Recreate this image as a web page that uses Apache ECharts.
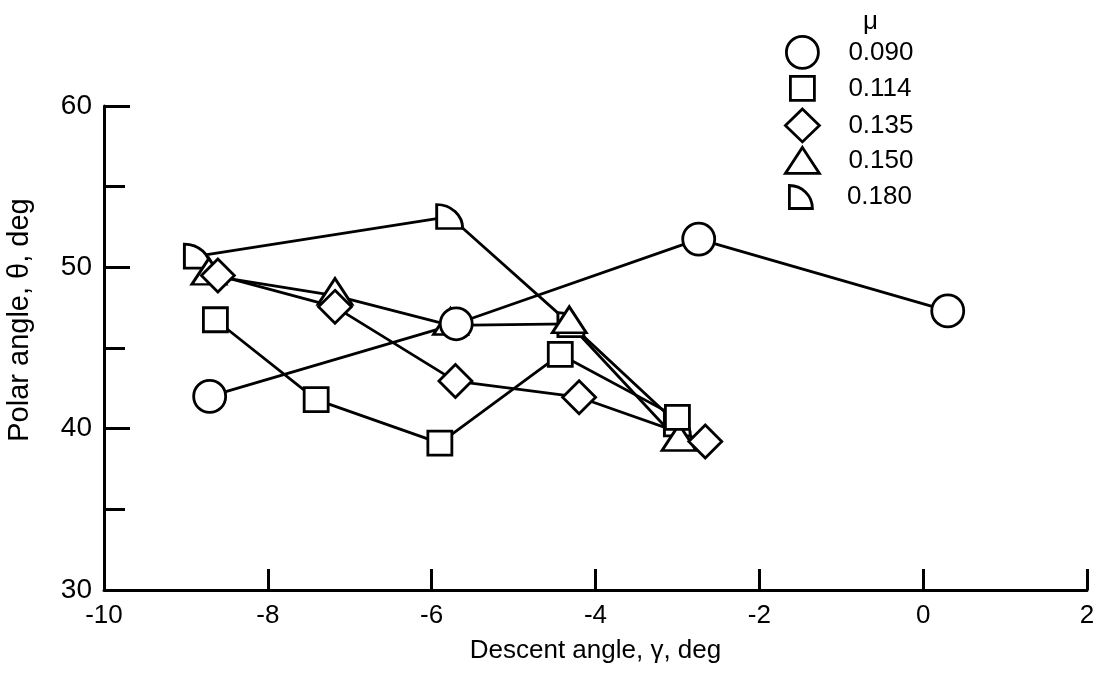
<!DOCTYPE html>
<html>
<head>
<meta charset="utf-8">
<script src="https://cdn.jsdelivr.net/npm/echarts@6/dist/echarts.min.js"></script>
<style>
  html, body { margin: 0; padding: 0; background: #fff; }
  #chart { width: 1097px; height: 675px; }
</style>
</head>
<body>
<div id="chart"></div>
<script>
// mu values (legend)
var muNames = ['0.090', '0.114', '0.135', '0.150', '0.180'];

// [descent angle gamma, polar angle theta] per mu
var mu090 = [[-8.71, 42.0], [-5.70, 46.5], [-2.74, 51.75], [0.30, 47.3]];
var mu114 = [[-8.64, 46.75], [-7.41, 41.8], [-5.90, 39.1], [-4.43, 44.6], [-3.00, 40.7]];
var mu135 = [[-8.61, 49.5], [-7.18, 47.55], [-5.71, 42.95], [-4.20, 41.95], [-2.66, 39.2]];
var mu150 = [[-8.72, 49.5], [-7.18, 48.25], [-5.77, 46.4], [-4.32, 46.5], [-2.98, 39.2]];
var mu180 = [[-8.86, 50.7], [-5.78, 53.15], [-4.30, 46.45], [-3.00, 40.3]];

var xTicks = [-10, -8, -6, -4, -2, 0, 2];
var yTicks = [30, 40, 50, 60];

var quarter = 'path://M0,0 L0,10 L10,10 A10,10 0 0 0 0,0 Z';

var font = 'Liberation Sans, Arial, Helvetica, sans-serif';
var fs = 26;
var markStyle = { color: '#fff', borderColor: '#000', borderWidth: 2.8 };
var lineStyle = { color: '#000', width: 2.8 };

var mkSeries = function(name, data, symbol, size, offset) {
	return {
		name: name,
		type: 'line',
		data: data,
		symbol: symbol,
		symbolSize: size,
		symbolOffset: offset || [0, 0],
		symbolKeepAspect: true,
		showAllSymbol: true,
		itemStyle: markStyle,
		lineStyle: lineStyle,
		emphasis: { disabled: true },
		clip: false
	};
};

// one legend per row so every icon keeps its own size
var rows = [
	{ name: muNames[0], icon: 'circle', w: 32, h: 32, y: 51 },
	{ name: muNames[1], icon: 'rect', w: 24, h: 24, y: 88 },
	{ name: muNames[2], icon: 'diamond', w: 34, h: 33, y: 124 },
	{ name: muNames[3], icon: 'triangle', w: 34, h: 26, y: 159 },
	{ name: muNames[4], icon: quarter, w: 26, h: 23, y: 197 }
];
var legends = rows.map(function(r) {
	return {
		orient: 'vertical',
		left: 801 - r.w / 2,
		top: r.y - Math.max(r.h, 26) / 2,
		padding: 0,
		itemWidth: r.w,
		itemHeight: r.h,
		selectedMode: false,
		textStyle: { fontFamily: font, fontSize: fs, color: '#000', padding: [0, 0, 0, 41 - r.w / 2] },
		data: [{ name: r.name, icon: r.icon, itemStyle: markStyle }]
	};
});

var chart = echarts.init(document.getElementById('chart'));
chart.setOption({
	animation: false,
	backgroundColor: '#fff',
	title: {
		text: 'μ',
		left: 858,
		top: 4,
		textStyle: { fontFamily: font, fontSize: fs, fontWeight: 'normal', color: '#000' }
	},
	legend: legends,
	grid: {
		left: 104,
		right: 10,
		top: 106,
		bottom: 85,
		outerBoundsMode: 'none'
	},
	xAxis: {
		type: 'value',
		min: xTicks[0],
		max: xTicks[xTicks.length - 1],
		interval: 2,
		name: 'Descent angle, γ, deg',
		nameLocation: 'middle',
		nameGap: 48,
		nameTextStyle: { fontFamily: font, fontSize: fs, color: '#000' },
		axisLine: { onZero: false, lineStyle: { color: '#000', width: 3 } },
		axisTick: { inside: true, length: 21, lineStyle: { color: '#000', width: 3 } },
		axisLabel: { fontFamily: font, fontSize: fs, color: '#000', margin: 13 },
		splitLine: { show: false }
	},
	yAxis: {
		type: 'value',
		min: yTicks[0],
		max: yTicks[yTicks.length - 1],
		interval: 10,
		name: 'Polar angle, θ, deg',
		nameLocation: 'middle',
		nameGap: 70,
		nameTextStyle: { fontFamily: font, fontSize: 29, color: '#000', padding: [0, 0, 0, 56] },
		axisLine: { onZero: false, lineStyle: { color: '#000', width: 3 } },
		axisTick: { inside: true, length: 26, lineStyle: { color: '#000', width: 3 } },
		minorTick: { show: true, splitNumber: 2, length: 21, lineStyle: { color: '#000', width: 3 } },
		axisLabel: { fontFamily: font, fontSize: 28, color: '#000', margin: 12 },
		splitLine: { show: false }
	},
	series: [
		mkSeries(muNames[4], mu180, quarter, [26, 24]),
		mkSeries(muNames[3], mu150, 'triangle', [34, 26], [0, -4]),
		mkSeries(muNames[2], mu135, 'diamond', 33),
		mkSeries(muNames[1], mu114, 'rect', 24),
		mkSeries(muNames[0], mu090, 'circle', 32)
	]
});
</script>
</body>
</html>
